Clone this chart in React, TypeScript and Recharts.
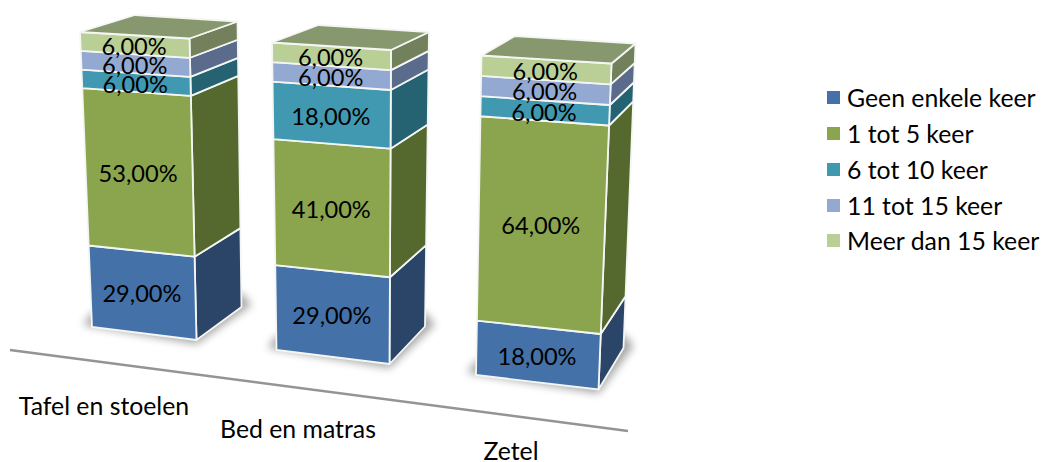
import { BarChart, Bar, XAxis, YAxis, Legend } from "recharts";

const categories = ["Tafel en stoelen", "Bed en matras", "Zetel"];
const geen = [29, 29, 18];
const eenTot5 = [53, 41, 64];
const zesTot10 = [6, 18, 6];
const elfTot15 = [6, 6, 6];
const meerDan15 = [6, 6, 6];

const seriesNames = ["Geen enkele keer", "1 tot 5 keer", "6 tot 10 keer", "11 tot 15 keer", "Meer dan 15 keer"];
const seriesValues = [geen, eenTot5, zesTot10, elfTot15, meerDan15];
const frontColors = ["#4371a8", "#8aa54e", "#4198b1", "#93a9d1", "#b9cf96"];
const sideColors = ["#2b4569", "#55692f", "#256372", "#5b6b8c", "#72805c"];
const topColor = "#87986e";

const W = 1042;
const H = 462;
const AXIS_H = 1;
const PLOT_H = H - AXIS_H;
const FONT = "Lato, 'Open Sans', sans-serif";

const data = categories.map((name, i) => {
  const row: Record<string, string | number> = { name };
  seriesNames.forEach((s, j) => (row[s] = seriesValues[j][i]));
  return row;
});

type Pt = [number, number];
// picture-space corners of each 3d column (tl/tr/bl/br = front face, rt/rb = back right, lt = back left)
const cubes: Record<string, Pt>[] = [
  { tl: [80, 32], tr: [189.5, 38.5], bl: [92, 327], br: [196.5, 340], rt: [237.5, 21.5], rb: [241.5, 307], lt: [135, 15] },
  { tl: [272, 42.5], tr: [391, 50], bl: [276.5, 350], br: [389.5, 364], rt: [429, 32], rb: [425, 326.5], lt: [318.5, 25] },
  { tl: [481.5, 55.5], tr: [611.5, 63.5], bl: [476, 375], br: [598.5, 389.5], rt: [635.5, 43.5], rb: [623.5, 348], lt: [515, 36] },
];
const tickPos: Pt[] = [[104, 415], [298, 438], [511, 460]];

// slight foreshortening towards the top of a column
const persp = (t: number) => t / (t + (1 - t) * 1.07);
const at = (a: Pt, b: Pt, t: number): Pt => {
  const f = persp(t);
  return [a[0] + (b[0] - a[0]) * f, a[1] + (b[1] - a[1]) * f];
};
const poly = (pts: Pt[]) => pts.map((p) => p.join(",")).join(" ");
const edge = { stroke: "#f4f6f4", strokeWidth: 1.8, strokeLinejoin: "round" as const };

function Segment(props: any) {
  const { y, height, index, seriesIndex } = props;
  const c = cubes[index];
  const t0 = (PLOT_H - (y + height)) / PLOT_H;
  const t1 = (PLOT_H - y) / PLOT_H;
  const front = [at(c.bl, c.tl, t0), at(c.br, c.tr, t0), at(c.br, c.tr, t1), at(c.bl, c.tl, t1)];
  const side = [at(c.br, c.tr, t0), at(c.rb, c.rt, t0), at(c.rb, c.rt, t1), at(c.br, c.tr, t1)];
  return (
    <g>
      {seriesIndex === 0 && (
        <polygon
          points={poly([
            [c.bl[0] - 9, c.bl[1] - 2],
            [c.br[0], c.br[1] + 4],
            [c.rb[0] + 10, c.rb[1] - 2],
            [c.rb[0], c.rb[1] - 14],
            [c.bl[0], c.bl[1] - 14],
          ])}
          fill="#000"
          opacity={0.35}
          filter="url(#baseShadow)"
        />
      )}
      <polygon points={poly(side)} fill={sideColors[seriesIndex]} {...edge} />
      <polygon points={poly(front)} fill={frontColors[seriesIndex]} {...edge} />
      {seriesIndex === seriesNames.length - 1 && (
        <polygon points={poly([c.tl, c.tr, c.rt, c.lt])} fill={topColor} {...edge} />
      )}
    </g>
  );
}

// second, invisible stack so the labels end up above every segment
function SegmentLabel(props: any) {
  const { y, height, index, value } = props;
  const c = cubes[index];
  const t0 = (PLOT_H - (y + height)) / PLOT_H;
  const t1 = (PLOT_H - y) / PLOT_H;
  const a = at(c.bl, c.tl, t0);
  const b = at(c.br, c.tr, t0);
  const d = at(c.bl, c.tl, t1);
  const e = at(c.br, c.tr, t1);
  const v = Array.isArray(value) ? value[1] - value[0] : value;
  return (
    <text
      x={(a[0] + b[0] + d[0] + e[0]) / 4 - 1}
      y={(a[1] + b[1] + d[1] + e[1]) / 4 + 1}
      textAnchor="middle"
      dominantBaseline="central"
      fontFamily={FONT}
      fontSize={23.6}
      fill="#000"
    >
      {v.toFixed(2).replace(".", ",")}%
    </text>
  );
}

function CategoryTick(props: any) {
  const { index, payload } = props;
  const [x, y] = tickPos[index];
  return (
    <g>
      {index === 0 && <line x1={10} y1={350} x2={628} y2={431} stroke="#949494" strokeWidth={2.4} />}
      <text x={x} y={y} textAnchor="middle" fontFamily={FONT} fontSize={24.8} fill="#000">
        {payload.value}
      </text>
    </g>
  );
}

function LegendList(props: any) {
  const payload = props.payload || [];
  return (
    <div style={{ fontFamily: FONT, fontSize: 24.8, color: "#000" }}>
      {seriesNames.map((name) => {
        const item = payload.find((p: any) => p.value === name);
        return (
          <div key={name} style={{ display: "flex", alignItems: "center", height: 35.75 }}>
            <span style={{ width: 13, height: 13, background: item?.color, marginRight: 7, flex: "none" }} />
            <span style={{ whiteSpace: "nowrap" }}>{name}</span>
          </div>
        );
      })}
    </div>
  );
}

export default function App() {
  return (
    <div style={{ position: "absolute", left: 0, top: 0, width: W, height: H, background: "#fff" }}>
      <BarChart width={W} height={H} data={data} margin={{ top: 0, right: 0, bottom: 0, left: 0 }}>
        <defs>
          <filter id="baseShadow" x="-30%" y="-50%" width="160%" height="200%">
            <feGaussianBlur stdDeviation="4" />
          </filter>
        </defs>
        <XAxis dataKey="name" height={AXIS_H} interval={0} axisLine={false} tickLine={false} tick={<CategoryTick />} />
        <YAxis hide domain={[0, 100]} />
        <XAxis xAxisId="labels" dataKey="name" hide />
        <YAxis yAxisId="labels" hide domain={[0, 100]} />
        <Legend
          layout="vertical"
          align="left"
          verticalAlign="top"
          wrapperStyle={{ left: 827, top: 80, width: 215 }}
          content={<LegendList />}
        />
        {seriesNames.map((s, j) => (
          <Bar
            key={s}
            dataKey={s}
            stackId="a"
            fill={frontColors[j]}
            isAnimationActive={false}
            shape={(p: any) => <Segment {...p} seriesIndex={j} />}
          />
        ))}
        {seriesNames.map((s) => (
          <Bar
            key={s + "-label"}
            dataKey={s}
            xAxisId="labels"
            yAxisId="labels"
            stackId="labels"
            legendType="none"
            isAnimationActive={false}
            shape={<SegmentLabel />}
          />
        ))}
      </BarChart>
    </div>
  );
}
